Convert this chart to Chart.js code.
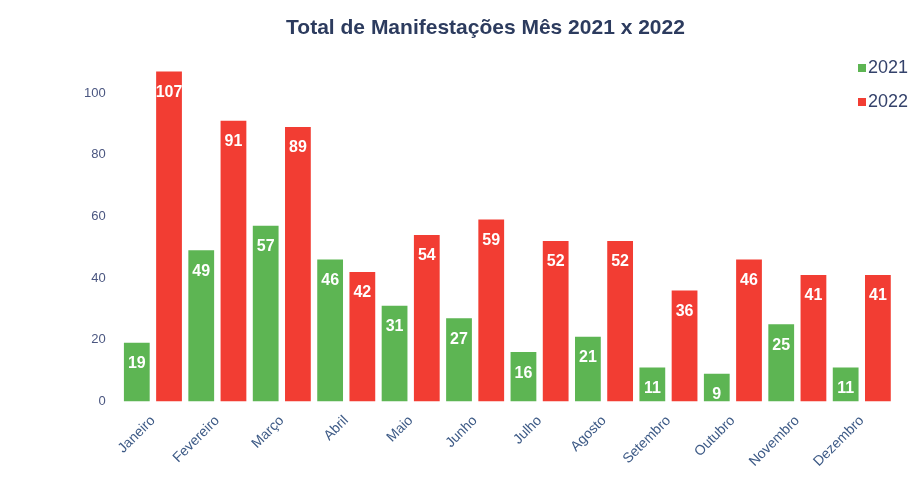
<!DOCTYPE html>
<html lang="pt-br">
<head>
  <meta charset="UTF-8">
  <title>Total de Manifestações Mês 2021 x 2022</title>
  <script src="https://cdn.jsdelivr.net/npm/chart.js"></script>
  <style>
    html, body { margin: 0; padding: 0; background: #fff; }
    .grafico { width: 921px; height: 495px; }
  </style>
</head>
<body>
  <div class="grafico">
    <canvas id="barChart" width="921" height="495"></canvas>
  </div>

<script>
  const meses = ["Janeiro", "Fevereiro", "Março", "Abril", "Maio", "Junho",
    "Julho", "Agosto", "Setembro", "Outubro", "Novembro", "Dezembro"];
  const valores2021 = [19, 49, 57, 46, 31, 27, 16, 21, 11, 9, 25, 11];
  const valores2022 = [107, 91, 89, 42, 54, 59, 52, 52, 36, 46, 41, 41];
  const ticksY = [0, 20, 40, 60, 80, 100];

  // rotulos brancos dentro das barras
  const rotulos = {
    id: "rotulos",
    afterDatasetsDraw(chart) {
      const ctx = chart.ctx;
      chart.data.datasets.forEach(function (ds, i) {
        chart.getDatasetMeta(i).data.forEach(function (bar, j) {
          const w = bar.width;
          ctx.save();
          ctx.beginPath();
          ctx.rect(bar.x - w / 2, bar.y, w, bar.base - bar.y);
          ctx.clip();
          ctx.fillStyle = "#ffffff";
          ctx.font = "bold 16px 'Liberation Sans', Arial, sans-serif";
          ctx.textAlign = "center";
          ctx.textBaseline = "middle";
          ctx.fillText(ds.data[j], bar.x, bar.y + 21);
          ctx.restore();
        });
      });
    }
  };

  // legenda no canto superior direito, dentro da area do grafico
  const legenda = {
    id: "legenda",
    afterDraw(chart) {
      const ctx = chart.ctx;
      ctx.save();
      ctx.font = "18px 'Liberation Sans', Arial, sans-serif";
      ctx.textBaseline = "middle";
      chart.data.datasets.forEach(function (ds, i) {
        const y = 68 + i * 34;
        ctx.fillStyle = ds.backgroundColor;
        ctx.fillRect(858, y - 4, 8, 8);
        ctx.fillStyle = "#34426b";
        ctx.fillText(ds.label, 868, y);
      });
      ctx.restore();
    }
  };

  const config = {
    type: "bar",
    data: {
      labels: meses,
      datasets: [
        {
          label: "2021",
          data: valores2021,
          backgroundColor: "#5db553"
        },
        {
          label: "2022",
          data: valores2022,
          backgroundColor: "#f23d33"
        }
      ]
    },
    options: {
      responsive: false,
      animation: false,
      layout: {
        padding: { left: 77, right: 27, top: 12, bottom: 22 }
      },
      datasets: {
        bar: { barPercentage: 0.8, categoryPercentage: 1.0 }
      },
      scales: {
        x: {
          grid: { display: false },
          border: { display: false },
          ticks: {
            minRotation: 45,
            maxRotation: 45,
            color: "#3d5a86",
            font: { family: "'Liberation Sans', Arial, sans-serif", size: 14 }
          }
        },
        y: {
          min: 0,
          max: 110,
          grid: { display: false },
          border: { display: false },
          afterBuildTicks(scale) {
            scale.ticks = ticksY.map(function (v) { return { value: v }; });
          },
          ticks: {
            padding: 7,
            color: "#4a5680",
            font: { family: "'Liberation Sans', Arial, sans-serif", size: 13 }
          }
        }
      },
      plugins: {
        legend: { display: false },
        tooltip: { enabled: false },
        title: {
          display: true,
          text: "Total de Manifestações Mês 2021 x 2022",
          color: "#2c3b5e",
          font: { family: "'Liberation Sans', Arial, sans-serif", size: 21, weight: "bold" },
          padding: { top: 4, bottom: 21 }
        }
      }
    },
    plugins: [rotulos, legenda]
  };

  new Chart(document.getElementById("barChart"), config);
</script>
</body>
</html>
